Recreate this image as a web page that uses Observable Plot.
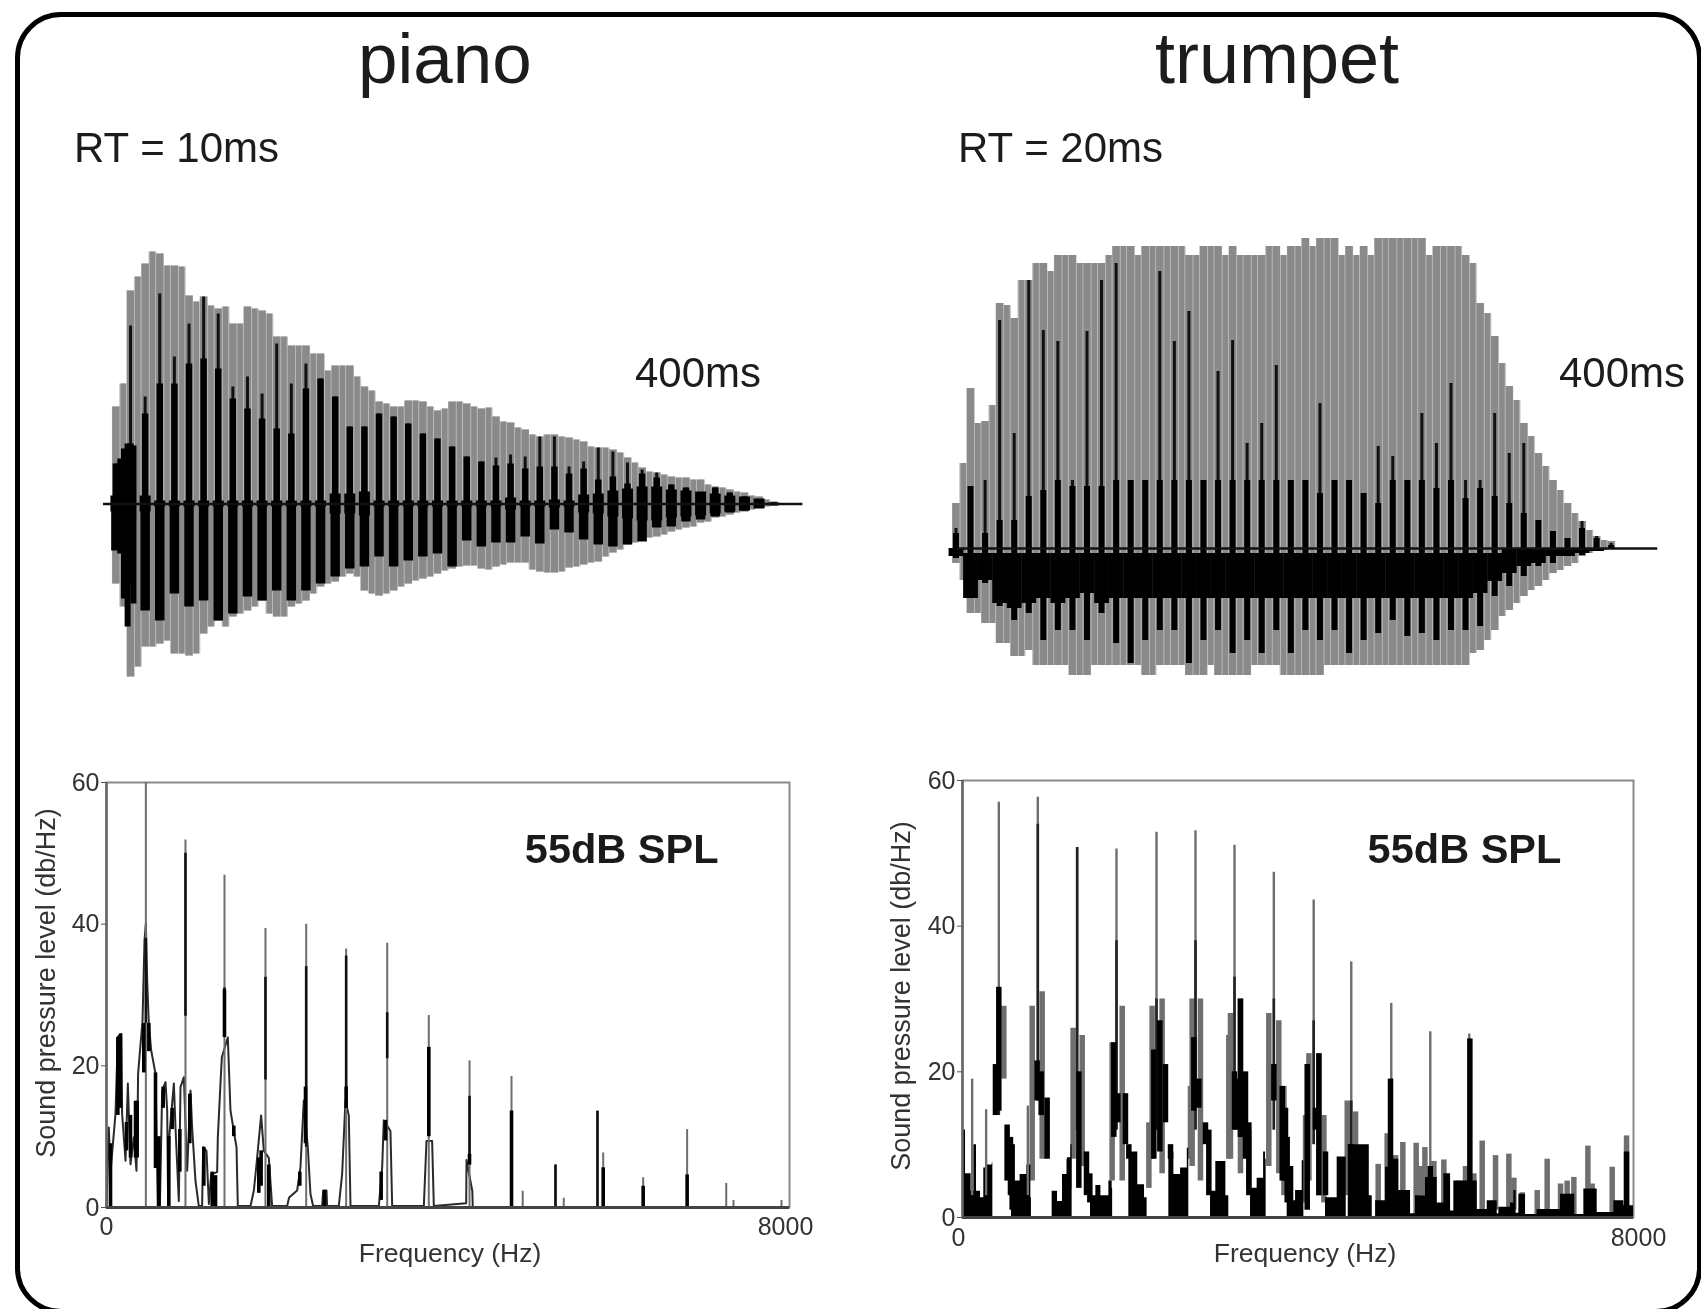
<!DOCTYPE html>
<html><head><meta charset="utf-8">
<script src="https://cdn.jsdelivr.net/npm/d3@7"></script>
<script src="https://cdn.jsdelivr.net/npm/@observablehq/plot@0.6"></script>
<style>
html,body{margin:0;padding:0;background:#fff;overflow:hidden}
#stage{position:absolute;left:0;top:0;width:1701px;height:1309px;overflow:hidden;filter:blur(.7px);font-family:"Liberation Sans",Arial,sans-serif;color:#1c1c1c}
#panel{position:absolute;left:15px;top:12px;width:1687px;height:1302px;border:5px solid #000;border-radius:46px;box-sizing:border-box}
.t{position:absolute;white-space:nowrap;line-height:1}
</style></head><body><div id="stage"><div id="panel"></div></div>
<script>
// ---------- waveforms: one value per pitch period (k) and per half-way point (k+.5)
const pianoGrayTop=[97,213,240,250,238,208,207,195,180,197,193,167,158,158,150,138,138,117,102,97,103,102,93,102,100,95,87,81,74,67,69,66,62,56,54,46,36,31,27,26,24,17,14,11,7,2];
const pianoGrayTopMid=[120,227,252,238,237,202,198,197,180,195,190,167,158,150,133,138,127,113,100,97,103,97,95,102,97,96,82,76,69,69,67,64,57,56,51,41,32,29,26,24,19,16,12,8,4];
const pianoThin=[40,178,107,210,147,180,207,190,117,127,110,160,120,140,125,107,77,77,90,87,80,70,65,57,47,42,46,49,47,67,67,37,42,56,52,41,34,31,19,16,11,16,11,7,4,1];
const pianoThick=[40,60,90,120,120,140,145,135,105,95,85,75,70,115,125,107,77,77,90,87,80,70,65,57,47,42,38,40,35,37,37,30,35,24,27,20,30,26,19,16,11,16,11,7,4,1];
const pianoCore=[8,15,8,3,3,3,3,3,3,3,3,3,3,3,3,10,10,12,3,3,3,3,3,3,3,3,3,6,3,3,4,3,9,10,13,15,17,17,14,13,12,10,8,7,5,1];
const pianoGrayBottom=[80,173,143,140,150,152,130,117,113,107,97,113,103,97,83,78,70,87,92,87,80,75,70,65,62,65,63,59,59,68,69,64,61,58,49,41,36,33,28,24,19,14,11,8,4,2];
const pianoGrayBottomMid=[103,163,143,137,150,150,123,123,110,103,110,113,100,90,80,73,73,90,90,83,77,73,67,63,62,66,61,59,66,69,68,63,59,53,46,39,34,31,26,23,18,13,9,6,3];
const pianoBlackBottom=[47,80,107,117,90,103,97,117,110,93,97,87,97,87,80,73,65,63,53,63,57,53,50,63,37,43,39,39,33,40,26,29,36,41,43,41,38,24,23,18,16,13,9,7,4,2];
const pianoOnsetPeriod=[-0.7,-0.45,-0.2,0.2];
const pianoOnsetUp=[45,55,60,58];
const pianoOnsetDown=[50,95,123,100];

const trumpetGrayTop=[45,160,127,245,230,268,285,293,293,285,285,302,302,302,302,302,293,302,302,302,293,293,302,302,310,310,310,302,302,310,310,310,310,302,302,293,245,212,162,125,95,68,45,27,12,7];
const trumpetGrayTopMid=[85,125,143,243,268,285,277,293,285,285,293,302,293,302,302,302,293,302,293,293,293,302,293,302,302,310,293,293,293,310,310,310,293,302,302,285,235,185,148,112,82,58,35,18,8];
const trumpetThin=[20,62,68,228,115,268,218,207,68,217,268,285,68,68,277,207,237,68,177,208,105,125,183,68,68,145,68,68,55,102,92,68,135,105,165,68,68,135,95,105,28,17,10,27,12,5];
const trumpetThick=[15,62,15,28,28,52,58,68,62,62,62,68,68,68,68,68,68,68,68,68,68,68,68,68,68,55,68,68,55,45,68,68,68,60,68,50,60,52,45,35,28,17,10,20,10,3];
const trumpetGrayBottom=[15,65,75,95,108,102,117,117,127,127,117,117,117,127,117,117,127,127,127,127,127,117,117,127,127,127,117,117,117,117,117,117,117,117,117,117,102,82,62,48,38,25,18,8,2,0];
const trumpetGrayBottomMid=[32,65,75,95,108,117,117,117,127,117,117,117,117,127,117,117,127,117,127,127,117,117,127,127,127,117,117,117,117,117,117,117,117,117,117,105,92,68,55,42,32,22,15,5,2];
const trumpetBlackBottom=[10,50,35,58,72,65,92,82,82,92,65,95,115,92,82,82,115,92,82,105,92,105,82,105,82,92,82,105,92,85,72,88,85,92,82,82,78,48,38,28,18,15,8,7,2,0];
const trumpetBandLow=[8,50,32,55,60,55,50,55,50,45,55,50,50,50,50,50,50,50,50,50,50,50,50,50,50,50,50,50,50,50,50,50,50,50,50,50,45,33,25,18,15,8,8,5,3,0];
const trumpetBandHigh=[0,5,5,5,5,5,5,5,5,5,5,5,5,5,5,5,5,5,5,5,5,5,5,5,5,5,5,5,5,5,5,5,5,5,5,5,5,5,0,0,0,0,0,0,0,0];

// ---------- piano spectrum
const pianoPeakHz=[461,925,1382,1862,2339,2807,3288,3775,4252,4744,4875,5259,5356,5751,5818,6286,6801,7259,7344,7906];
const pianoPeakDb=[60,51.9,46.9,39.4,40,36.5,37.3,27.1,20.7,18.5,2.3,6,1.3,13.6,7.7,4.2,11,3.4,1,1];
const pianoDarkHz=[461,925,1382,1862,2339,2807,3288,3775,4252,4744,5259,5751];
const pianoDarkLow=[26,27,24,18,8.5,14,21,10,6,0,0,0];
const pianoDarkHigh=[38,50,31,32.5,34,35.5,27.5,22.6,15.7,13.6,6,13.6];
const pianoBlockHz=[47,133,164,234,281,340,359,437,496,574,613,664,730,769,859,976,1140,1238,1277,1382,1491,1784,1811,1901,2264,2331,2553,2807,3217,3268,3775,4252,4744,5818,6286,6801];
const pianoBlockLow=[0,13,14,8,7,7,7,19,22,5.5,0,14,0,11,5,9,3,0,0,24,10,2,3,0,3,9,0,14,1,9.4,10,6,0,0,0,0];
const pianoBlockHigh=[9,24,24.5,12,13,15,15,26,26,19,10,17,10,14,11,16,8.5,5,4.5,30.7,11.5,7,8,6,5,17,2.4,17,5,12.3,22.6,7.5,13.6,5.6,3,4.6];
const pianoLineHz=[0,27,47,105,133,172,183,223,250,281,320,351,367,370,422,445,461,476,496,523,574,601,625,652,691,711,722,738,789,808,847,867,906,945,984,1003,1042,1081,1120,1132,1171,1199,1226,1296,1304,1335,1351,1421,1452,1491,1523,1538,1687,1726,1757,1811,1843,1901,1940,2116,2139,2233,2272,2311,2358,2389,2420,2526,2538,2577,2584,2721,2760,2799,2838,2858,3190,3229,3248,3326,3346,3717,3748,3814,3834,4213,4217,4285,4290];
const pianoLineDb=[0,11.3,5,13.2,24.1,24.5,13.2,6.6,17.5,6.1,9.9,5.2,15.6,18.9,26.4,37.7,40.1,32.1,25.9,22.2,18.9,0,0,16.5,17.7,13.7,0,10.4,17.5,11.3,.9,17,18.4,5.2,16.5,11.3,3.8,.2,.2,8.5,8,.5,4.7,5,9.9,17.5,21.2,24,13.7,10.8,8.5,.2,.2,2.4,6.1,13,8,7,.2,.2,1.4,2.4,5.7,15.1,8.5,1.9,.2,.2,2.4,2.4,.2,.2,4.7,15.1,13,.2,.2,5.7,12.3,10.8,.2,.2,9.4,9.4,.2,.6,6.7,2.3,0];

// ---------- trumpet spectrum
const trumpetPeakHz=[115,282,433,779,898,1367,1836,2313,2778,3243,3712,4187,4635,5112,5577,6042];
const trumpetPeakLow=[3,3,14,3,16,12,12,12,12,12,12,10,5,3,1,1];
const trumpetPeakDb=[19,14.8,57,15.3,57.7,50.8,50.6,52.9,53.1,51.1,47.4,43.6,35.1,29.4,25.5,25.2];
const trumpetDarkHz=[433,898,1367,1836,2313,2778,3243,3712,4187,4635,5112,5577,6042];
const trumpetDarkLow=[14,16,12,12,12,12,12,12,10,5,3,1,0];
const trumpetDarkHigh=[31.6,54,50.8,38,30,38,33,30,27,16,19,7,24.5];
const trumpetGrayHz=[493,831,950,1268,1319,1427,1784,1904,2222,2261,2380,2718,2738,2837,3175,3195,3314,3414,3652,3771,3832,4090,4130,4249,4309,4507,4587,4686,4765,4956,5063,5163,5250,5409,5460,5513,5620,5739,5918,5997,6097,6196,6355,6514,6574,6673,6852,6971,7130,7209,7289,7456,7507,7746,7917];
const trumpetGrayLow=[19,5,8,4,8,7,5,5,4,8,6,8,7,5,8,8,6,4,7,6,3,2,5,3,2,2,3,5,2,2,2,2,1,0,3,3,2,1,1,1,1,1,1,1,1,0,0,0,0,0,0,0,0,0,0];
const trumpetGrayHigh=[29,29,31,8,26,25,24,29,13,29,30,18,30,30,25,28,30,12,28,27,18,14,22.5,22.5,14,8,16,14.5,9,7.3,11.5,8.5,10.3,10.2,7,9.6,7.7,7.9,5,7,6,10.5,8.5,8.7,5.4,3.4,3.7,8,4.6,5,5.5,9.8,4.6,6.9,11.2];
const trumpetBlackHz=[393,433,532,572,592,890,938,1009,1387,1478,1518,1804,1852,1943,1983,2281,2353,2420,2480,2758,2818,2897,2937,3243,3275,3314,3374,3414,3712,3812,3851,3871,3911,4110,4209,4249,4328,4626,4785,5103,5163,5577,6049,7917];
const trumpetBlackLow=[14,14.6,5,3,1,16,14,8,4,3,2,11,13,10,8,8,9,13,8,14.6,15,10,3,12,12,11,8,3,16,5,5,2,1,1,12,3,3,0,0,3,2,0,0,0];
const trumpetBlackHigh=[21,31.6,12.7,11,10,21.5,20,16.4,20,9,6,24,17,17,10,23,27,21,10,24.7,19,13,12,20,19,30,20,13,21,18,15,11,7,21,15,22.5,9,10,7,19,8,7,24.5,9];
const trumpetBase=[[0,12],[36,6],[76,6],[103,3.6],[135,10],[167,3.6],[215,2.7],[254,6.8],[294,7.2],[354,7.5],[362,0],
[578,0],[584,5],[628,5],[687,5.9],[767,7.2],[815,2.7],[822,0],
[1062,0],[1069,3.6],[1133,2.2],[1192,5.9],[1252,8.2],[1292,10],[1307,0],
[1520,0],[1526,3],[1590,4.4],[1650,3],[1745,5],[1784,4],[1790,0],
[1977,0],[1983,9],[2040,9],[2090,4.5],[2170,2.7],[2201,0],
[2454,0],[2460,9],[2520,5.9],[2600,6.8],[2680,9.5],[2698,0],
[2950,0],[2957,3.6],[3020,7.7],[3100,7.7],[3140,3],[3175,0],
[3428,0],[3434,4],[3513,5.4],[3590,9],[3613,8],[3620,0],
[3865,0],[3871,2.3],[3971,3.7],[4050,7.8],[4070,0],
[4322,0],[4328,2.7],[4467,8.3],[4567,8.3],[4575,0],
[4600,0],[4607,10],[4706,10],[4850,3],[4885,0],
[4920,0],[4925,2.3],[5024,2.3],[5044,6.9],[5183,3.7],[5342,.5],
[5401,3],[5500,3],[5520,5.5],[5660,2],[5739,6],[5819,.9],[5858,5],[5938,5],[6137,1.1],[6176,1.1],[6256,2.3],[6375,.5],[6395,1.4],[6534,2],[6574,3.7],[6600,.6],[6633,3.2],[6713,.4],[6850,1.1],[7050,1.1],[7130,3.2],[7210,3.2],[7300,.4],[7408,3.9],[7487,3.9],[7567,.7],[7646,.7],[7766,2.3],[7845,2.3],[7885,1.6],[8000,5.5]];

const spectrumTicks=[0,20,40,60];
const periods=d3.range(pianoGrayTop.length).map(i=>i-1);
const midPeriods=d3.range(pianoGrayTopMid.length).map(i=>i-0.5);
const FONT='"Liberation Sans",Arial,sans-serif';

function col(...pairs){ // build row objects from named arrays
  const names=pairs.filter((_,i)=>i%2==0),arr=pairs.filter((_,i)=>i%2==1);
  return arr[0].map((_,i)=>Object.fromEntries(names.map((n,j)=>[n,arr[j][i]])));
}
function place(svg,left,top){
  svg.style.position="absolute";svg.style.left=left+"px";svg.style.top=top+"px";svg.style.maxWidth="none";
  document.getElementById("stage").appendChild(svg);
}
function label(text,left,base,size,extra={}){
  const e=document.createElement("div");e.className="t";e.textContent=text;
  e.style.left=left+"px";e.style.top=(base-size*0.8465)+"px";e.style.fontSize=size+"px";
  Object.assign(e.style,extra);document.getElementById("stage").appendChild(e);
}

function wave(opts){
  const rows=col("k",periods,"gt",opts.grayTop,"gb",opts.grayBottom,"thin",opts.thin,"thick",opts.thick,"bb",opts.blackBottom);
  const mids=col("k",midPeriods,"gt",opts.grayTopMid,"gb",opts.grayBottomMid);
  const gray=(data,stroke,w)=>Plot.ruleX(data,{x:"k",y1:d=>-d.gb,y2:"gt",stroke,strokeWidth:w});
  const marks=[
    gray(rows,"#c4c4c4",8), gray(mids,"#c4c4c4",8),
    gray(rows,"#8a8a8a",7.4), gray(mids,"#8a8a8a",5.6),
    ...opts.extra(rows),
    Plot.ruleX(rows,{x:"k",y1:0,y2:"thin",stroke:"#111",strokeWidth:3}),
    Plot.ruleX(rows,{x:"k",y1:0,y2:"thick",stroke:"#000",strokeWidth:opts.thickW}),
    Plot.ruleX(rows,{x:"k",y1:0,y2:d=>-d.bb,stroke:"#000",strokeWidth:opts.bottomW}),
    Plot.ruleY([0],{x1:opts.z1,x2:opts.z2,stroke:"#111",strokeWidth:2.4})
  ];
  return Plot.plot({width:opts.width,height:opts.height,margin:0,style:{background:"transparent",overflow:"visible"},
    x:{domain:opts.xd,range:opts.xr,axis:null},y:{domain:opts.yd,range:opts.yr,axis:null},marks});
}

place(wave({grayTop:pianoGrayTop,grayTopMid:pianoGrayTopMid,grayBottom:pianoGrayBottom,grayBottomMid:pianoGrayBottomMid,thin:pianoThin,thick:pianoThick,blackBottom:pianoBlackBottom,
  thickW:6.5,bottomW:9.5,z1:-1.85,z2:46,width:705,height:450,xd:[-2,46],xr:[.8,702.4],yd:[-180,260],yr:[443.5,3.5],
  extra:rows=>{
    const core=col("k",periods,"c",pianoCore),on=col("k",pianoOnsetPeriod,"u",pianoOnsetUp,"d",pianoOnsetDown);
    return [Plot.ruleX(core,{x:"k",y1:d=>-d.c,y2:"c",stroke:"#000",strokeWidth:11}),
            Plot.ruleX(on,{x:"k",y1:d=>-d.d,y2:"u",stroke:"#000",strokeWidth:6})];
  }}),100,240);

place(wave({grayTop:trumpetGrayTop,grayTopMid:trumpetGrayTopMid,grayBottom:trumpetGrayBottom,grayBottomMid:trumpetGrayBottomMid,thin:trumpetThin,thick:trumpetThick,blackBottom:trumpetBlackBottom,
  thickW:6,bottomW:6,z1:-.9,z2:47.2,width:730,height:470,xd:[-2,48],xr:[.9,728.9],yd:[-135,320],yr:[463,8],
  extra:()=>{
    const band=col("k",periods,"lo",trumpetBandLow,"hi",trumpetBandHigh);
    return [Plot.ruleX(band,{x:"k",y1:d=>-d.lo,y2:d=>-d.hi,stroke:"#000",strokeWidth:14.8})];
  }}),940,220);

function spectrum(opts){
  return Plot.plot({width:820,height:520,marginLeft:opts.ml,marginRight:opts.mr,marginTop:opts.mt,marginBottom:opts.mb,
    style:{background:"transparent",overflow:"visible",fontFamily:FONT,fontSize:"25px",color:"#333"},
    x:{domain:[0,8000],axis:null},y:{domain:[0,60],axis:null},
    marks:[
      Plot.frame({stroke:"#8a8a8a",strokeWidth:2}),
      ...opts.marks,
      Plot.ruleY([0],{stroke:"#444",strokeWidth:3}),
      Plot.ruleX([0],{stroke:"#666",strokeWidth:2.5}),
      Plot.axisY({ticks:spectrumTicks,tickSize:5,tickPadding:2,label:null,stroke:"#555",fontSize:25}),
      Plot.axisX({ticks:[0],tickSize:0,tickPadding:opts.xpad,label:null,fontSize:25,tickFormat:d=>String(d),dx:opts.zeroDx}),
      Plot.axisX({ticks:[8000],tickSize:0,tickPadding:opts.xpad,label:null,fontSize:25,tickFormat:d=>String(d),dx:opts.endDx}),
      Plot.text(["Frequency (Hz)"],{frameAnchor:"bottom",dy:opts.fdy,dx:opts.fdx,fontSize:26.5,fill:"#333"}),
      Plot.text(["Sound pressure level (db/Hz)"],{frameAnchor:"left",rotate:-90,textAnchor:"middle",dx:opts.ydx,dy:opts.ydy,fontSize:27,fill:"#333"}),
      Plot.text(["55dB SPL"],{x:opts.sx,y:opts.sy,textAnchor:"start",fontWeight:"bold",fontSize:41.5,fill:"#1a1a1a"})
    ]});
}
const pianoLine=col("f",pianoLineHz,"db",pianoLineDb);
place(spectrum({ml:106,mr:31,mt:22,mb:73,xpad:10,zeroDx:0,endDx:-4,fdy:54,fdx:2,ydx:-60,ydy:-12,sx:4900,sy:50.5,marks:[
  Plot.line(pianoLine,{x:"f",y:"db",stroke:"#2a2a2a",strokeWidth:2}),
  Plot.ruleX(col("f",pianoPeakHz,"p",pianoPeakDb),{x:"f",y1:0,y2:"p",stroke:"#6e6e6e",strokeWidth:2}),
  Plot.ruleX(col("f",pianoDarkHz,"l",pianoDarkLow,"h",pianoDarkHigh),{x:"f",y1:"l",y2:"h",stroke:"#111",strokeWidth:2.6}),
  Plot.ruleX(col("f",pianoBlockHz,"l",pianoBlockLow,"h",pianoBlockHigh),{x:"f",y1:"l",y2:"h",stroke:"#000",strokeWidth:3.6})
]}),0,760);
place(spectrum({ml:112,mr:37,mt:20,mb:63,xpad:11,zeroDx:-4,endDx:5,fdy:44,fdx:7,ydx:-61,ydy:-3,sx:4830,sy:50.5,marks:[
  Plot.ruleX(col("f",trumpetGrayHz,"l",trumpetGrayLow,"h",trumpetGrayHigh),{x:"f",y1:"l",y2:"h",stroke:"#6f6f6f",strokeWidth:5.5}),
  Plot.areaY(trumpetBase,{x:d=>d[0],y:d=>d[1],fill:"#000",curve:"step-after"}),
  Plot.ruleX(col("f",trumpetPeakHz,"l",trumpetPeakLow,"p",trumpetPeakDb),{x:"f",y1:"l",y2:"p",stroke:"#6e6e6e",strokeWidth:2.4}),
  Plot.ruleX(col("f",trumpetDarkHz,"l",trumpetDarkLow,"h",trumpetDarkHigh),{x:"f",y1:"l",y2:"h",stroke:"#222",strokeWidth:2.6}),
  Plot.ruleX(col("f",trumpetBlackHz,"l",trumpetBlackLow,"h",trumpetBlackHigh),{x:"f",y1:"l",y2:"h",stroke:"#000",strokeWidth:5.5})
]}),850,760);

label("piano",358,83,71);
label("trumpet",1155,83,72);
label("RT = 10ms",74,163,42);
label("RT = 20ms",958,163,42);
label("400ms",635,388,42);
label("400ms",1559,388,42);
</script></body></html>
